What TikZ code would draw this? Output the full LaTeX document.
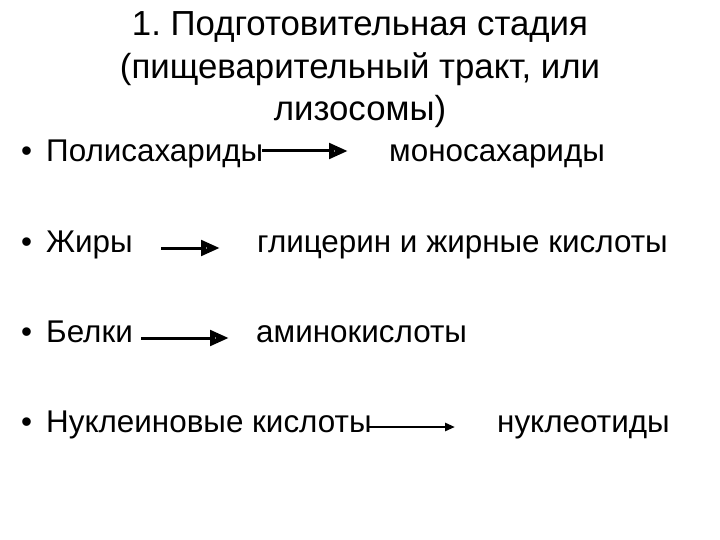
\documentclass[tikz,border=0pt]{standalone}
\usepackage{fontspec}
\setmainfont{Liberation Sans}
\newfontfamily\titlefont{Liberation Sans}
\usetikzlibrary{arrows.meta}
\frenchspacing
\begin{document}
\begin{tikzpicture}[x=1pt,y=-1pt,
  txt/.style={inner sep=0pt,anchor=base west,font=\fontsize{31.4}{38}\selectfont},
  bul/.style={inner sep=0pt,anchor=base west,font=\fontsize{31.4}{38}\selectfont},
  bigarr/.style={line width=3pt,-{Triangle[open,length=19pt,width=15pt,line width=5pt]}},
  smallarr/.style={line width=2.5pt,-{Triangle[length=10pt,width=8pt]}}]
\useasboundingbox (0,0) rectangle (720,540);
\node[inner sep=0pt,anchor=base,align=center,font=\titlefont\fontsize{34.8}{42.5}\selectfont] (title) at (360,121)
  {1. Подготовительная стадия\\(пищеварительный тракт, или\\лизосомы)};
% bullets
\node[bul] (b1) at (21,162) {•};
\node[bul] (b2) at (21,252) {•};
\node[bul] (b3) at (21,342) {•};
\node[bul] (b4) at (21,432) {•};
% left texts
\node[txt] (l1) at (46,162) {Полисахариды};
\node[txt] (l2) at (46,252) {Жиры};
\node[txt] (l3) at (46,342) {Белки};
\node[txt] (l4) at (46,432) {Нуклеиновые кислоты};
% right texts
\node[txt] (r1) at (389,162) {моносахариды};
\node[txt] (r2) at (257,252) {глицерин и жирные кислоты};
\node[txt] (r3) at (256,342) {аминокислоты};
\node[txt] (r4) at (497,432) {нуклеотиды};
% arrow ends
\coordinate (a1s) at (262,151); \coordinate (a1e) at (348,151);
\coordinate (a2s) at (161,248); \coordinate (a2e) at (220,248);
\coordinate (a3s) at (141,338); \coordinate (a3e) at (229,338);
\coordinate (a4s) at (369,427); \coordinate (a4e) at (455,427);
\draw[bigarr] (a1s) -- (a1e);
\draw[bigarr] (a2s) -- (a2e);
\draw[bigarr] (a3s) -- (a3e);
\draw[smallarr] (a4s) -- (a4e);
\end{tikzpicture}
\end{document}
